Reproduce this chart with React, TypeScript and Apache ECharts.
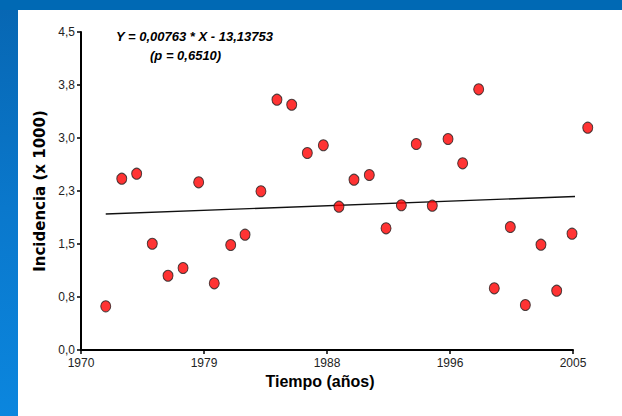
import React, { useEffect, useRef } from "react";
import * as echarts from "echarts";

const years = [
  1971.76, 1972.9, 1973.96, 1975.07, 1976.19, 1977.26, 1978.37, 1979.48,
  1980.65, 1981.67, 1982.8, 1983.94, 1984.99, 1986.1, 1987.24, 1988.35,
  1989.42, 1990.51, 1991.7, 1992.79, 1993.85, 1994.99, 1996.11, 1997.15,
  1998.29, 1999.4, 2000.54, 2001.61, 2002.72, 2003.84, 2004.93, 2006.05,
];
const incidence = [
  0.618, 2.424, 2.495, 1.504, 1.051, 1.16, 2.373, 0.944,
  1.486, 1.632, 2.246, 3.542, 3.471, 2.788, 2.897, 2.028,
  2.41, 2.476, 1.722, 2.048, 2.915, 2.042, 2.986, 2.642,
  3.689, 0.873, 1.741, 0.637, 1.49, 0.839, 1.646, 3.146,
];
const trendYears = [1971.76, 2006.05];
const trendValues = [1.925, 2.179];
const xTickLabels = ["1970", "1979", "1988", "1996", "2005"];
const yTickLabels = ["0,0", "0,8", "1,5", "2,3", "3,0", "3,8", "4,5"];
const xTitle = "Tiempo (años)";
const yTitle = "Incidencia (x 1000)";
const equationText = "Y = 0,00763 * X - 13,13753";
const pText = "(p = 0,6510)";

const NARROW = "'Liberation Sans Narrow', 'Arial Narrow', 'Liberation Sans', Arial, sans-serif";
const SANS = "'Liberation Sans', Arial, sans-serif";
const WIDE = "'DejaVu Sans', Verdana, sans-serif";

export default function App() {
  const ref = useRef<HTMLDivElement>(null);

  useEffect(() => {
    const prev = document.body.style.overflow;
    document.body.style.overflow = "hidden";
    document.body.style.margin = "0";
    if (!ref.current) return;
    const chart = echarts.init(ref.current, undefined, { renderer: "svg" });
    const xMin = 1970;
    const xInt = 8.75;
    const yInt = 0.75;
    chart.setOption({
      animation: false,
      backgroundColor: "transparent",
      grid: { left: 81, right: 49, top: 32, bottom: 66, containLabel: false },
      xAxis: {
        type: "value",
        min: xMin,
        max: 2005,
        interval: xInt,
        name: xTitle,
        nameLocation: "middle",
        nameGap: 17,
        nameTextStyle: {
          fontFamily: SANS,
          fontWeight: "bold",
          fontSize: 16,
          color: "#000",
          padding: [0, 14, 0, 0],
        },
        axisLine: { show: true, lineStyle: { color: "#000", width: 2 } },
        axisTick: { show: true, length: 4, lineStyle: { color: "#000", width: 1.5 } },
        splitLine: { show: false },
        axisLabel: {
          margin: 7,
          fontFamily: NARROW,
          fontSize: 12,
          color: "#222",
          formatter: (v: number) => xTickLabels[Math.round((v - xMin) / xInt)] ?? "",
        },
      },
      yAxis: {
        type: "value",
        min: 0,
        max: 4.5,
        interval: yInt,
        name: yTitle,
        nameLocation: "middle",
        nameGap: 34,
        nameRotate: 90,
        nameTextStyle: {
          fontFamily: WIDE,
          fontWeight: "bold",
          fontSize: 15,
          color: "#000",
        },
        axisLine: { show: true, lineStyle: { color: "#000", width: 2 } },
        axisTick: { show: true, length: 4, lineStyle: { color: "#000", width: 1.5 } },
        splitLine: { show: false },
        axisLabel: {
          margin: 6,
          fontFamily: NARROW,
          fontSize: 12,
          color: "#222",
          formatter: (v: number) => yTickLabels[Math.round(v / yInt)] ?? "",
        },
      },
      series: [
        {
          type: "line",
          data: trendYears.map((x, i) => [x, trendValues[i]]),
          showSymbol: false,
          symbol: "none",
          clip: false,
          lineStyle: { color: "#111", width: 1.4 },
          z: 2,
        },
        {
          type: "scatter",
          data: years.map((x, i) => [x, incidence[i]]),
          symbol: "circle",
          symbolSize: [10, 11],
          clip: false,
          itemStyle: { color: "#ff0000", borderColor: "#222", borderWidth: 1 },
          z: 3,
        },
      ],
      graphic: [
        {
          type: "text",
          left: 116,
          top: 30,
          style: {
            text: equationText,
            fontFamily: NARROW,
            fontStyle: "italic",
            fontWeight: "bold",
            fontSize: 13,
            fill: "#000",
          },
        },
        {
          type: "text",
          left: 150,
          top: 49,
          style: {
            text: pText,
            fontFamily: NARROW,
            fontStyle: "italic",
            fontWeight: "bold",
            fontSize: 13,
            fill: "#000",
          },
        },
      ],
    });
    return () => {
      chart.dispose();
      document.body.style.overflow = prev;
    };
  }, []);

  return (
    <div
      style={{
        position: "fixed",
        left: 0,
        top: 0,
        width: 622,
        height: 416,
        background: "#ffffff",
        overflow: "hidden",
      }}
    >
      <div
        style={{
          position: "absolute",
          left: 0,
          top: 0,
          width: 18,
          height: 416,
          background: "linear-gradient(to bottom, #0766b2 0%, #0a78cc 50%, #0b86de 100%)",
        }}
      />
      <div style={{ position: "absolute", left: 0, top: 0, width: 622, height: 10, background: "#0069b4" }} />
      <div ref={ref} style={{ position: "absolute", left: 0, top: 0, width: 622, height: 416 }} />
    </div>
  );
}
